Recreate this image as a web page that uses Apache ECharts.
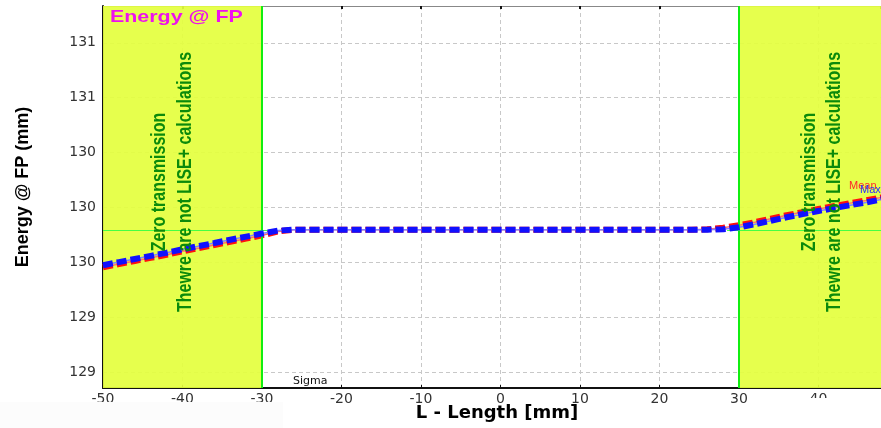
<!DOCTYPE html>
<html>
<head>
<meta charset="utf-8">
<script src="https://cdn.jsdelivr.net/npm/echarts@6/dist/echarts.min.js"></script>
<style>
  html, body { margin: 0; padding: 0; background: #ffffff; }
  #chart { width: 881px; height: 428px; }
</style>
</head>
<body>
<div id="chart"></div>
<script>
// Position along the line (mm)
const lengthMm = [-50, -48, -46, -44, -42, -40, -38, -36, -34, -32, -30, -28, -26, -24, -22, -20,
  -18, -16, -14, -12, -10, -8, -6, -4, -2, 0, 2, 4, 6, 8, 10, 12, 14, 16, 18, 20, 22, 24, 26,
  28, 30, 32, 34, 36, 38, 40, 42, 44, 46, 48];

// Mean energy at the focal plane
const meanEnergy = [130.174, 130.191, 130.208, 130.225, 130.242, 130.261, 130.278, 130.295, 130.313, 130.330,
  130.348, 130.369, 130.379, 130.379, 130.379, 130.379, 130.379, 130.379, 130.379, 130.379, 130.379,
  130.379, 130.379, 130.379, 130.379, 130.379, 130.379, 130.379, 130.379, 130.379, 130.379, 130.379,
  130.379, 130.379, 130.379, 130.379, 130.379, 130.379, 130.381, 130.390, 130.403, 130.420, 130.439,
  130.458, 130.475, 130.492, 130.508, 130.524, 130.539, 130.556];

// Max energy at the focal plane
const maxEnergy = [130.185, 130.202, 130.219, 130.236, 130.253, 130.272, 130.289, 130.306, 130.324, 130.341,
  130.358, 130.374, 130.379, 130.379, 130.379, 130.379, 130.379, 130.379, 130.379, 130.379, 130.379,
  130.379, 130.379, 130.379, 130.379, 130.379, 130.379, 130.379, 130.379, 130.379, 130.379, 130.379,
  130.379, 130.379, 130.379, 130.379, 130.379, 130.379, 130.379, 130.381, 130.392, 130.409, 130.428,
  130.447, 130.464, 130.481, 130.497, 130.513, 130.528, 130.545];

// Y tick positions (labels shown truncated to whole numbers)
const yTicks = [129.6, 129.9, 130.2, 130.5, 130.8, 131.1, 131.4];

// Transmission limits and reference level
const zeroLeft = [-50, -30];
const zeroRight = [30, 47.86];
const refLevel = 130.374;
const refLeftEnd = -28.7;
const refRightStart = 28.5;

const xMin = -50, xMax = 47.86, yMin = 129.514, yMax = 131.601;

const pairs = (ys) => lengthMm.map((x, i) => [x, ys[i]]);

const chart = echarts.init(document.getElementById('chart'), null, { renderer: 'canvas' });

const tickFont = { fontFamily: 'DejaVu Sans', fontSize: 14, color: '#333333' };
const dashedGrid = { show: true, lineStyle: { color: '#c8c8c8', type: [4, 3], width: 1 } };

chart.setOption({
  animation: false,
  backgroundColor: '#ffffff',
  grid: { left: 103, top: 6, right: 0, bottom: 40, containLabel: false },
  xAxis: [{
    type: 'value', min: xMin, max: xMax, interval: 10,
    axisLine: { show: true, onZero: false, lineStyle: { color: '#111', width: 2 } },
    axisTick: { show: true, inside: true, length: 3, lineStyle: { color: '#111' } },
    axisLabel: Object.assign({ margin: 4, showMaxLabel: false }, tickFont),
    splitLine: dashedGrid
  }, {
    type: 'value', position: 'top', min: xMin, max: xMax, interval: 10,
    axisLine: { show: true, onZero: false, lineStyle: { color: '#888', width: 1 } },
    axisTick: { show: true, inside: true, length: 3, lineStyle: { color: '#111', width: 2 } },
    axisLabel: { show: false },
    splitLine: { show: false }
  }],
  yAxis: {
    type: 'value', min: yMin, max: yMax,
    axisLine: { show: true, onZero: false, lineStyle: { color: '#111', width: 2 } },
    axisTick: { show: false, customValues: yTicks },
    axisLabel: Object.assign({
      margin: 7, customValues: yTicks,
      formatter: (v) => String(Math.floor(v + 1e-9))
    }, tickFont),
    splitLine: dashedGrid
  },
  series: [
    {
      name: 'zones', type: 'line', data: [], silent: true,
      markArea: {
        silent: true,
        itemStyle: { color: 'rgba(228,255,62,0.92)' },
        data: [
          [{ xAxis: zeroLeft[0], yAxis: yMin }, { xAxis: zeroLeft[1], yAxis: yMax }],
          [{ xAxis: zeroRight[0], yAxis: yMin }, { xAxis: zeroRight[1], yAxis: yMax }]
        ]
      },
      markLine: {
        silent: true, symbol: 'none', label: { show: false },
        data: [
          { xAxis: zeroLeft[1], lineStyle: { color: '#11ee11', width: 2, type: 'solid' } },
          { xAxis: zeroRight[0], lineStyle: { color: '#11ee11', width: 2, type: 'solid' } },
          [{ coord: [xMin, refLevel], lineStyle: { color: '#44ff44', width: 1, type: 'solid' } }, { coord: [refLeftEnd, refLevel] }],
          [{ coord: [refRightStart, refLevel], lineStyle: { color: '#44ff44', width: 1, type: 'solid' } }, { coord: [xMax, refLevel] }]
        ]
      }
    },
    {
      name: 'Mean thin', type: 'line', data: pairs(meanEnergy), showSymbol: false, silent: true,
      lineStyle: { color: '#ff7070', width: 1.5 }, z: 2
    },
    {
      name: 'Mean', type: 'line', data: pairs(meanEnergy), showSymbol: false, silent: true,
      lineStyle: { color: '#ff1010', width: 6, type: [10, 4], cap: 'butt' }, z: 3
    },
    {
      name: 'Max thin', type: 'line', data: pairs(maxEnergy), showSymbol: false, silent: true,
      lineStyle: { color: '#8080ff', width: 1.5 }, z: 4
    },
    {
      name: 'Max', type: 'line', data: pairs(maxEnergy), showSymbol: false, silent: true,
      lineStyle: { color: '#1010ff', width: 6, type: [10, 4], cap: 'butt' }, z: 5
    }
  ]
});

// Annotation texts
const px = (x, y) => chart.convertToPixel({ gridIndex: 0 }, [x, y]);
const midY = 182;
const noteFont = 'bold 20px "Liberation Sans", Arial, sans-serif';
const noteColor = '#0b8a0b';
function verticalNote(cx, text) {
  return {
    type: 'text', x: cx, y: midY, rotation: Math.PI / 2, scaleX: 0.8, z: 50,
    style: { text: text, font: noteFont, fill: noteColor, align: 'center', verticalAlign: 'middle' }
  };
}
const leftC = px(-41.3, refLevel)[0];
const rightC = px(40.4, refLevel)[0];

chart.setOption({
  graphic: [
    verticalNote(leftC - 13, 'Zero transmission'),
    verticalNote(leftC + 13, 'Thewre are not LISE+ calculations'),
    verticalNote(rightC - 12, 'Zero transmission'),
    verticalNote(rightC + 13, 'Thewre are not LISE+ calculations'),
    {
      type: 'text', x: 110, y: 17, scaleX: 1.26, z: 50,
      style: { text: 'Energy @ FP', font: 'bold 17px "Liberation Sans", Arial, sans-serif', fill: '#ee11ee', align: 'left', verticalAlign: 'middle' }
    },
    {
      type: 'text', x: 23, y: 187, rotation: Math.PI / 2, z: 50,
      style: { text: 'Energy @ FP (mm)', font: 'bold 18px "Liberation Sans", Arial, sans-serif', fill: '#000000', align: 'center', verticalAlign: 'middle' }
    },
    {
      type: 'text', x: 497, y: 413, z: 50,
      style: { text: 'L - Length [mm]', font: 'bold 18px "DejaVu Sans", sans-serif', fill: '#000000', align: 'center', verticalAlign: 'middle' }
    },
    {
      type: 'text', x: 293, y: 381, z: 50,
      style: { text: 'Sigma', font: '11px "DejaVu Sans", sans-serif', fill: '#111111', align: 'left', verticalAlign: 'middle' }
    },
    {
      type: 'text', x: 849, y: 186, z: 50,
      style: { text: 'Mean', font: '11px "Liberation Sans", Arial, sans-serif', fill: '#ff2a2a', align: 'left', verticalAlign: 'middle' }
    },
    {
      type: 'text', x: 860, y: 190, z: 51,
      style: { text: 'Max', font: '11px "Liberation Sans", Arial, sans-serif', fill: '#2a2aff', align: 'left', verticalAlign: 'middle' }
    },
    {
      type: 'rect', shape: { x: 790, y: 398, width: 91, height: 30 }, z: 40,
      style: { fill: '#ffffff' }
    },
    {
      type: 'rect', shape: { x: 0, y: 402, width: 283, height: 26 }, z: 1,
      style: { fill: '#fcfcfc' }
    }
  ]
});
</script>
</body>
</html>
